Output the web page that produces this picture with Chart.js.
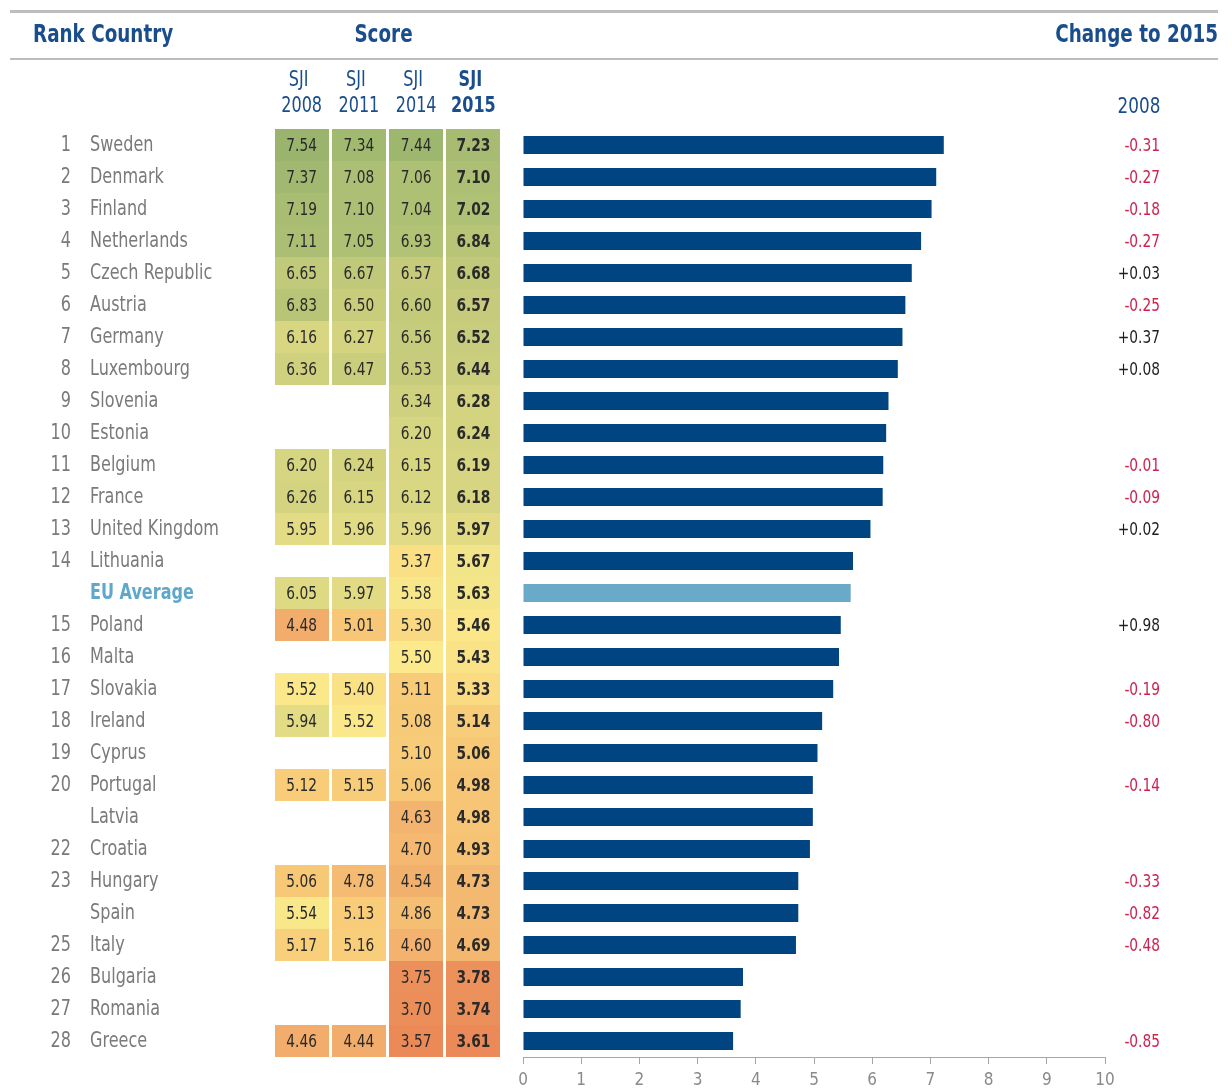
<!DOCTYPE html>
<html>
<head>
<meta charset="utf-8">
<script src="https://cdn.jsdelivr.net/npm/chart.js@4/dist/chart.umd.min.js"></script>
<style>
  html, body { margin: 0; padding: 0; background: #ffffff; }
  #wrap { position: relative; width: 1232px; height: 1090px; }
  canvas { position: absolute; left: 0; top: 0; }
</style>
</head>
<body>
<div id="wrap">
  <canvas id="tbl" width="1232" height="1090"></canvas>
  <canvas id="bars" width="1232" height="1090"></canvas>
</div>
<script>
// ---------- DATA ----------
const countries = ['Sweden','Denmark','Finland','Netherlands','Czech Republic','Austria','Germany','Luxembourg','Slovenia','Estonia','Belgium','France','United Kingdom','Lithuania','EU Average','Poland','Malta','Slovakia','Ireland','Cyprus','Portugal','Latvia','Croatia','Hungary','Spain','Italy','Bulgaria','Romania','Greece'];
const ranks = ['1','2','3','4','5','6','7','8','9','10','11','12','13','14','','15','16','17','18','19','20','','22','23','','25','26','27','28'];
const sji2008 = [7.54,7.37,7.19,7.11,6.65,6.83,6.16,6.36,null,null,6.20,6.26,5.95,null,6.05,4.48,null,5.52,5.94,null,5.12,null,null,5.06,5.54,5.17,null,null,4.46];
const sji2011 = [7.34,7.08,7.10,7.05,6.67,6.50,6.27,6.47,null,null,6.24,6.15,5.96,null,5.97,5.01,null,5.40,5.52,null,5.15,null,null,4.78,5.13,5.16,null,null,4.44];
const sji2014 = [7.44,7.06,7.04,6.93,6.57,6.60,6.56,6.53,6.34,6.20,6.15,6.12,5.96,5.37,5.58,5.30,5.50,5.11,5.08,5.10,5.06,4.63,4.70,4.54,4.86,4.60,3.75,3.70,3.57];
const sji2015 = [7.23,7.10,7.02,6.84,6.68,6.57,6.52,6.44,6.28,6.24,6.19,6.18,5.97,5.67,5.63,5.46,5.43,5.33,5.14,5.06,4.98,4.98,4.93,4.73,4.73,4.69,3.78,3.74,3.61];
const change2008 = [-0.31,-0.27,-0.18,-0.27,0.03,-0.25,0.37,0.08,null,null,-0.01,-0.09,0.02,null,null,0.98,null,-0.19,-0.80,null,-0.14,null,null,-0.33,-0.82,-0.48,null,null,-0.85];
const columnYears = ['2008','2011','2014','2015'];
const averageLabel = 'EU Average';

// ---------- STYLE ----------
const FONT = "'DejaVu Sans Condensed', 'DejaVu Sans', sans-serif";
const SQUEEZE = 0.85;            // horizontal compression to mimic a condensed face
const BLUE = '#1a4d8c';
const GREY_TEXT = '#7a7a7a';
const BAR_BLUE = '#004481';
const BAR_AVG = '#68aac8';
const AVG_TEXT = '#5fa8cb';
const NEG_RED = '#cf2150';
const colorStops = [
  [3.55, [235,136,87]],
  [4.50, [242,174,108]],
  [5.15, [248,205,121]],
  [5.50, [251,233,139]],
  [6.00, [224,218,132]],
  [6.50, [200,205,124]],
  [7.00, [176,193,117]],
  [7.55, [154,180,109]]
];
function heatColor(v) {
  if (v <= colorStops[0][0]) return 'rgb(' + colorStops[0][1].join(',') + ')';
  for (let k = 1; k < colorStops.length; k++) {
    const a = colorStops[k - 1], b = colorStops[k];
    if (v <= b[0]) {
      const t = (v - a[0]) / (b[0] - a[0]);
      const c = a[1].map((x, i) => Math.round(x + (b[1][i] - x) * t));
      return 'rgb(' + c.join(',') + ')';
    }
  }
  return 'rgb(' + colorStops[colorStops.length - 1][1].join(',') + ')';
}
function txt(ctx, s, x, y, font, color, align) {
  ctx.save();
  ctx.font = font;
  ctx.fillStyle = color;
  ctx.textAlign = align;
  ctx.textBaseline = 'middle';
  ctx.translate(x, y);
  ctx.scale(SQUEEZE, 1);
  ctx.fillText(s, 0, 0);
  ctx.restore();
}

const columns = [sji2008, sji2011, sji2014, sji2015];

// ---------- TABLE CHART (heat cells, names, headers) ----------
const tablePlugin = {
  id: 'tablePlugin',
  afterDraw(chart) {
    const ctx = chart.ctx;
    const xs = chart.scales.x, ys = chart.scales.y;
    const colW = xs.getPixelForValue(1) - xs.getPixelForValue(0);
    const rowH = ys.getPixelForValue(1) - ys.getPixelForValue(0);
    ctx.save();
    // header rules
    ctx.strokeStyle = '#bdbdbd';
    ctx.lineWidth = 3;
    ctx.beginPath(); ctx.moveTo(10, 11.5); ctx.lineTo(1218, 11.5); ctx.stroke();
    ctx.lineWidth = 2;
    ctx.beginPath(); ctx.moveTo(10, 59); ctx.lineTo(1218, 59); ctx.stroke();
    ctx.restore();
    // header titles
    const hf = 'bold 24px ' + FONT;
    txt(ctx, 'Rank Country', 33, 36, hf, BLUE, 'left');
    const mid = (xs.getPixelForValue(0) + xs.getPixelForValue(3)) / 2;
    txt(ctx, 'Score', mid - 4, 36, hf, BLUE, 'center');
    txt(ctx, 'Change to 2015', 1218, 36, hf, BLUE, 'right');
    // column sub headers
    columnYears.forEach((yr, j) => {
      const cx = xs.getPixelForValue(j);
      const f = (j === 3 ? 'bold ' : '') + '21px ' + FONT;
      txt(ctx, 'SJI', cx - 3, 81, f, BLUE, 'center');
      txt(ctx, yr, cx, 107, f, BLUE, 'center');
    });
    // cells
    columns.forEach((col, j) => {
      const cx = xs.getPixelForValue(j);
      col.forEach((v, i) => {
        if (v === null || v === undefined) return;
        const cy = ys.getPixelForValue(i);
        const top = Math.round(cy - rowH / 2);
        const bot = Math.round(cy + rowH / 2);
        ctx.fillStyle = heatColor(v);
        ctx.fillRect(Math.round(cx - (colW - 3) / 2), top, Math.round(colW - 3), bot - top);
        txt(ctx, v.toFixed(2), cx, cy + 1, (j === 3 ? 'bold ' : '') + '18px ' + FONT, '#2a2a2a', 'center');
      });
    });
    // ranks and countries
    countries.forEach((name, i) => {
      const cy = ys.getPixelForValue(i) + 1;
      if (ranks[i]) txt(ctx, ranks[i], 71, cy, '21px ' + FONT, GREY_TEXT, 'right');
      if (name === averageLabel) txt(ctx, name, 90, cy, 'bold 21px ' + FONT, AVG_TEXT, 'left');
      else txt(ctx, name, 90, cy, '21px ' + FONT, GREY_TEXT, 'left');
    });
  }
};

new Chart(document.getElementById('tbl'), {
  type: 'bar',
  data: { labels: countries, datasets: [] },
  options: {
    responsive: false,
    animation: false,
    events: [],
    layout: { padding: { left: 273, right: 1232 - 502, top: 129, bottom: 33 } },
    plugins: { legend: { display: false }, tooltip: { enabled: false } },
    scales: {
      x: { type: 'category', labels: columnYears, offset: true, display: false },
      y: { type: 'category', offset: true, display: false }
    }
  },
  plugins: [tablePlugin]
});

// ---------- BAR CHART (2015 score bars, change column) ----------
const changePlugin = {
  id: 'changePlugin',
  afterDraw(chart) {
    const ctx = chart.ctx;
    const ys = chart.scales.y;
    txt(ctx, '2008', 1139, 107, '22px ' + FONT, BLUE, 'center');
    change2008.forEach((v, i) => {
      if (v === null) return;
      const cy = ys.getPixelForValue(i);
      txt(ctx, (v > 0 ? '+' : '') + v.toFixed(2), 1160, cy + 1, '18px ' + FONT, v < 0 ? NEG_RED : '#1e1e1e', 'right');
    });
  }
};

new Chart(document.getElementById('bars'), {
  type: 'bar',
  data: {
    labels: countries,
    datasets: [{
      data: sji2015,
      backgroundColor: countries.map(c => c === averageLabel ? BAR_AVG : BAR_BLUE),
      borderWidth: 0,
      barPercentage: 0.56,
      categoryPercentage: 1.0
    }]
  },
  options: {
    indexAxis: 'y',
    responsive: false,
    animation: false,
    events: [],
    layout: { padding: { left: 523, right: 1232 - 1105, top: 129, bottom: 0 } },
    plugins: { legend: { display: false }, tooltip: { enabled: false } },
    scales: {
      y: { type: 'category', offset: true, display: false },
      x: {
        type: 'linear', min: 0, max: 10,
        afterFit(scale) { scale.height = 33; },
        border: { display: true, color: '#a6a6a6', width: 1 },
        grid: { display: true, drawOnChartArea: false, drawTicks: true, tickLength: 7, color: '#a6a6a6' },
        ticks: { stepSize: 1, color: '#8a8a8a', padding: 6, font: { family: FONT, size: 17 } }
      }
    }
  },
  plugins: [changePlugin]
});
</script>
</body>
</html>
